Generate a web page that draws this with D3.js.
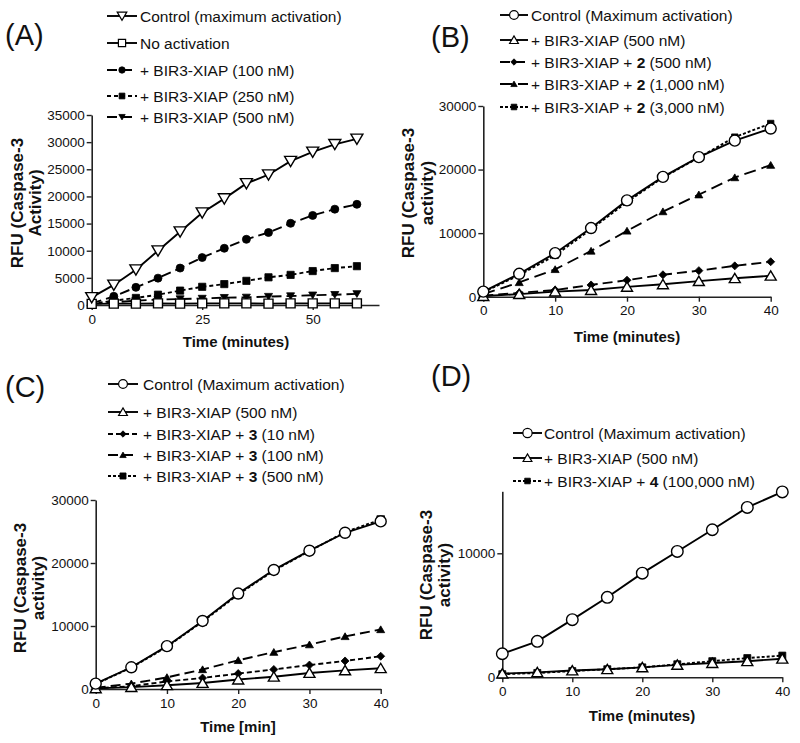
<!DOCTYPE html>
<html><head><meta charset="utf-8">
<script src="https://cdn.jsdelivr.net/npm/d3@7"></script>
<style>
body{margin:0;background:#fff}
svg{display:block}
text{font-family:"Liberation Sans",Arial,Helvetica,sans-serif;fill:#111}
</style>
</head><body>
<svg id="chart" width="800" height="743"></svg>
<script>
// ---------- DATA ----------
const timeA = [0,5,10,15,20,25,30,35,40,45,50,55,60];
const timeBCD = [0,5,10,15,20,25,30,35,40];

// Panel A
const aNames = ["Control (maximum activation)","No activation","+ BIR3-XIAP (100 nM)","+ BIR3-XIAP (250 nM)","+ BIR3-XIAP (500 nM)"];
const aControl = [1400,3700,6500,10000,13500,17000,19600,22400,24000,26500,28200,29600,30600];
const aNoAct   = [200,250,250,300,250,300,300,300,250,300,300,300,300];
const a100     = [300,1600,3250,4950,6800,8750,10450,12100,13350,15050,16500,17650,18550];
const a250     = [200,800,1300,1900,2650,3350,3850,4450,5100,5550,6250,6800,7150];
const a500     = [200,500,800,1000,1100,1200,1350,1400,1550,1650,1800,1900,2050];
const aXTicks = [0,25,50];
const aYTicks = [0,5000,10000,15000,20000,25000,30000,35000];

// Panel B
const bNames = ["Control (Maximum activation)","+ BIR3-XIAP (500 nM)","+ BIR3-XIAP + **2** (500 nM)","+ BIR3-XIAP + **2** (1,000 nM)","+ BIR3-XIAP + **2** (3,000 nM)"];
const bControl = [800,3600,6850,10800,15150,18850,21950,24550,26450];
const b500     = [100,400,800,1050,1550,1950,2450,2900,3300];
const b2_500   = [150,600,1050,1850,2600,3450,4100,4850,5500];
const b2_1000  = [400,2250,4300,7200,10350,13400,16050,18750,20700];
const b2_3000  = [700,3400,6500,10600,14900,18750,21900,25100,27250];
const bXTicks = [0,10,20,30,40];
const bYTicks = [0,10000,20000,30000];

// Panel C
const cNames = ["Control (Maximum activation)","+ BIR3-XIAP (500 nM)","+ BIR3-XIAP + **3** (10 nM)","+ BIR3-XIAP + **3** (100 nM)","+ BIR3-XIAP + **3** (500 nM)"];
const cControl = [850,3450,6800,10800,15150,18900,21950,24800,26600];
const c500     = [100,300,600,950,1500,1950,2550,2950,3300];
const c3_10    = [100,450,1200,1750,2450,3100,3800,4450,5200];
const c3_100   = [200,850,1850,3100,4550,5850,7050,8350,9450];
const c3_500   = [800,3400,6700,10700,15000,18800,21900,24900,26900];
const cXTicks = [0,10,20,30,40];
const cYTicks = [0,10000,20000,30000];

// Panel D
const dNames = ["Control (Maximum activation)","+ BIR3-XIAP (500 nM)","+ BIR3-XIAP + **4** (100,000 nM)"];
const dControl = [1900,2900,4650,6450,8400,10150,11900,13700,14950];
const d500     = [300,400,550,650,800,1000,1150,1300,1500];
const d4       = [250,350,500,650,800,1050,1300,1550,1750];
const dXTicks = [0,10,20,30,40];
const dYTicks = [0,10000];

// ---------- DRAWING ----------
const svg = d3.select("#chart");

function markerPath(shape, s){
  const p = d3.path();
  if(shape==="circle"){ p.moveTo(s,0); p.arc(0,0,s,0,2*Math.PI); }
  else if(shape==="square"){ p.rect(-s,-s,2*s,2*s); }
  else if(shape==="triDown"){ p.moveTo(-s,-s*0.8); p.lineTo(s,-s*0.8); p.lineTo(0,s*0.9); p.closePath(); }
  else if(shape==="triUp"){ p.moveTo(-s,s*0.8); p.lineTo(s,s*0.8); p.lineTo(0,-s*0.9); p.closePath(); }
  else if(shape==="diamond"){ p.moveTo(0,-s); p.lineTo(s,0); p.lineTo(0,s); p.lineTo(-s,0); p.closePath(); }
  return p.toString();
}

function addRich(sel, str){
  str.split("**").forEach((part,i)=>{
    if(part==="") return;
    sel.append("tspan").text(part).style("font-weight", i%2===1 ? "bold" : "normal");
  });
}

function drawPanel(p){
  const g = svg.append("g");
  const x = d3.scaleLinear().domain(p.xDomain).range(p.xRange);
  const y = d3.scaleLinear().domain(p.yDomain).range(p.yRange);

  // axes
  const xa = g.append("g").attr("transform",`translate(0,${y(0)})`)
    .call(d3.axisBottom(x).tickValues(p.xTicks).tickSize(5).tickSizeOuter(0).tickPadding(4).tickFormat(d3.format("d")));
  const ya = g.append("g").attr("transform",`translate(${x(0)},0)`)
    .call(d3.axisLeft(y).tickValues(p.yTicks).tickSize(5).tickSizeOuter(0).tickPadding(2).tickFormat(d3.format("d")));
  [xa,ya].forEach(a=>{
    a.select(".domain").attr("stroke","#222").attr("stroke-width",1.6);
    a.selectAll(".tick line").attr("stroke","#222").attr("stroke-width",1.4);
    a.selectAll(".tick text").attr("font-size",13.5).attr("font-family","'Liberation Sans',Arial,sans-serif").attr("fill","#222");
  });

  // axis titles
  g.append("text").attr("x",p.xTitle[1]).attr("y",p.xTitle[2]).attr("text-anchor","middle")
    .attr("font-size",15).attr("font-weight","bold").text(p.xTitle[0]);
  const yl = g.append("text").attr("transform",`translate(${p.yTitle.x},${p.yTitle.y}) rotate(-90)`)
    .attr("text-anchor","middle").attr("font-size",17).attr("font-weight","bold");
  p.yTitle.lines.forEach((t,i)=>{
    yl.append("tspan").attr("x",0).attr("y", i*p.yTitle.gap).text(t);
  });

  // panel letter
  g.append("text").attr("x",p.letter[1]).attr("y",p.letter[2]).attr("font-size",29).text(p.letter[0]);

  // series (drawn in reverse so first legend item ends on top)
  const line = d3.line().x(d=>x(d[0])).y(d=>y(d[1]));
  p.series.slice().reverse().forEach(s=>{
    const pts = s.t.map((t,i)=>[t,s.v[i]]);
    g.append("path").datum(pts).attr("d",line).attr("fill","none").attr("stroke","#000")
      .attr("stroke-width",1.9).attr("stroke-dasharray",s.dash||null);
    g.selectAll(null).data(pts).enter().append("path")
      .attr("d",markerPath(s.shape,s.size))
      .attr("transform",d=>`translate(${x(d[0])},${y(d[1])})`)
      .attr("fill",s.open?"#fff":"#000").attr("stroke","#000").attr("stroke-width",s.open?1.4:0.8);
  });

  // legend
  const L = p.legend;
  p.series.forEach((s,i)=>{
    const cy = L.rows[i];
    const lg = g.append("g");
    lg.append("line").attr("x1",L.x1).attr("x2",L.x2).attr("y1",cy).attr("y2",cy)
      .attr("stroke","#000").attr("stroke-width",1.9).attr("stroke-dasharray",s.dash||null);
    lg.append("path").attr("d",markerPath(s.shape,Math.max(2.8,s.size*0.8)))
      .attr("transform",`translate(${(L.x1+L.x2)/2},${cy})`)
      .attr("fill",s.open?"#fff":"#000").attr("stroke","#000").attr("stroke-width",s.open?1.2:0.8);
    const tx = lg.append("text").attr("x",L.tx).attr("y",cy+5.5).attr("font-size",15.5);
    addRich(tx, s.name);
  });
}

drawPanel({
  xDomain:[0,65], xRange:[91.7,379], yDomain:[0,35000], yRange:[305,115],
  xTicks:aXTicks, yTicks:aYTicks,
  xTitle:["Time (minutes)",236,347],
  yTitle:{x:23,y:203,gap:18,lines:["RFU (Caspase-3","Activity)"]},
  letter:["(A)",5,45],
  legend:{x1:107,x2:137,tx:140,rows:[16,43,70,96,117]},
  series:[
    {name:aNames[0],t:timeA,v:aControl,shape:"triDown",size:6,open:true},
    {name:aNames[1],t:timeA,v:aNoAct,shape:"square",size:4.5,open:true},
    {name:aNames[2],t:timeA,v:a100,shape:"circle",size:4,open:false,dash:"10,5"},
    {name:aNames[3],t:timeA,v:a250,shape:"square",size:3.6,open:false,dash:"4,3"},
    {name:aNames[4],t:timeA,v:a500,shape:"triDown",size:4,open:false,dash:"10,5"}
  ]
});

drawPanel({
  xDomain:[0,40], xRange:[483.3,770.7], yDomain:[0,30000], yRange:[296.7,106],
  xTicks:bXTicks, yTicks:bYTicks,
  xTitle:["Time (minutes)",627,342],
  yTitle:{x:414,y:193,gap:19,lines:["RFU (Caspase-3","activity)"]},
  letter:["(B)",431,47],
  legend:{x1:500,x2:528,tx:531,rows:[15,40,62,84,107]},
  series:[
    {name:bNames[0],t:timeBCD,v:bControl,shape:"circle",size:5.5,open:true},
    {name:bNames[1],t:timeBCD,v:b500,shape:"triUp",size:5.5,open:true},
    {name:bNames[2],t:timeBCD,v:b2_500,shape:"diamond",size:4,open:false,dash:"10,5"},
    {name:bNames[3],t:timeBCD,v:b2_1000,shape:"triUp",size:4,open:false,dash:"12,6"},
    {name:bNames[4],t:timeBCD,v:b2_3000,shape:"square",size:3.2,open:false,dash:"3,2"}
  ]
});

drawPanel({
  xDomain:[0,40], xRange:[95.7,380.7], yDomain:[0,30000], yRange:[689,500],
  xTicks:cXTicks, yTicks:cYTicks,
  xTitle:["Time [min]",238,732],
  yTitle:{x:26,y:588,gap:18,lines:["RFU (Caspase-3","activity)"]},
  letter:["(C)",5,397],
  legend:{x1:108,x2:138,tx:143,rows:[384,412,434,455,476]},
  series:[
    {name:cNames[0],t:timeBCD,v:cControl,shape:"circle",size:5.5,open:true},
    {name:cNames[1],t:timeBCD,v:c500,shape:"triUp",size:5.5,open:true},
    {name:cNames[2],t:timeBCD,v:c3_10,shape:"diamond",size:4,open:false,dash:"5,3"},
    {name:cNames[3],t:timeBCD,v:c3_100,shape:"triUp",size:4,open:false,dash:"10,5"},
    {name:cNames[4],t:timeBCD,v:c3_500,shape:"square",size:3.8,open:false,dash:"3,2"}
  ]
});

drawPanel({
  xDomain:[0,40], xRange:[502.3,782.3], yDomain:[0,15000], yRange:[677.3,491.3],
  xTicks:dXTicks, yTicks:dYTicks,
  xTitle:["Time (minutes)",642,721],
  yTitle:{x:432,y:575,gap:18,lines:["RFU (Caspase-3","activity)"]},
  letter:["(D)",431,386],
  legend:{x1:513,x2:542,tx:544,rows:[433,458,481]},
  series:[
    {name:dNames[0],t:timeBCD,v:dControl,shape:"circle",size:5.8,open:true},
    {name:dNames[1],t:timeBCD,v:d500,shape:"triUp",size:5.5,open:true},
    {name:dNames[2],t:timeBCD,v:d4,shape:"square",size:3.5,open:false,dash:"3,2"}
  ]
});
</script>
</body></html>
